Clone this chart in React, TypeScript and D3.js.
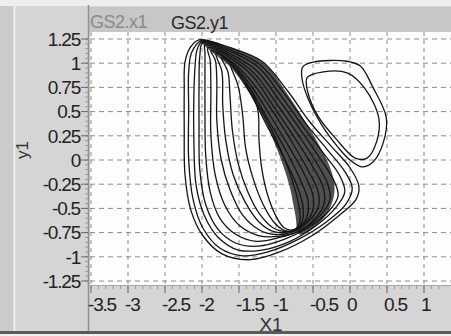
import React from 'react';
import * as d3 from 'd3';

const X_TICKS = [-3.5, -3, -2.5, -2, -1.5, -1, -0.5, 0, 0.5, 1];
const X_LABELS = ['-3.5', '-3', '-2.5', '-2', '-1.5', '-1', '-0.5', '0', '0.5', '1'];
const Y_TICKS = [1.25, 1, 0.75, 0.5, 0.25, 0, -0.25, -0.5, -0.75, -1, -1.25];
const Y_LABELS = ['1.25', '1', '0.75', '0.5', '0.25', '0', '-0.25', '-0.5', '-0.75', '-1', '-1.25'];
const SERIES_NAMES = ['GS2.x1', 'GS2.y1'];

// Orbit loops of the attractor (x1, y1)
const L1 = [[-2.04,1.24],[-1.62,1.16],[-1.19,1.02],[-0.84,0.71],[-0.54,0.39],[-0.24,0.13],[0,-0.08],[0.12,-0.27],[0.08,-0.41],[-0.16,-0.58],[-0.51,-0.78],[-0.95,-0.95],[-1.35,-1.03],[-1.73,-0.97],[-1.99,-0.78],[-2.15,-0.52],[-2.23,-0.15],[-2.24,0.31],[-2.24,0.72],[-2.23,1.01],[-2.16,1.16]];
const L2 = [[-2.01,1.23],[-1.62,1.14],[-1.22,0.99],[-0.88,0.68],[-0.58,0.36],[-0.30,0.10],[-0.07,-0.12],[0.03,-0.29],[-0.05,-0.45],[-0.32,-0.64],[-0.70,-0.82],[-1.11,-0.95],[-1.45,-0.99],[-1.76,-0.91],[-1.99,-0.70],[-2.12,-0.41],[-2.18,0],[-2.18,0.52],[-2.18,0.91],[-2.14,1.11]];
const L3 = [[-2.0,1.22],[-1.64,1.13],[-1.24,0.96],[-0.92,0.65],[-0.62,0.33],[-0.35,0.06],[-0.14,-0.16],[-0.07,-0.33],[-0.19,-0.49],[-0.46,-0.68],[-0.81,-0.84],[-1.19,-0.93],[-1.51,-0.93],[-1.78,-0.80],[-1.97,-0.57],[-2.08,-0.26],[-2.11,0.21],[-2.11,0.67],[-2.09,1.01],[-2.07,1.13]];
const L4 = [[-1.99,1.21],[-1.65,1.11],[-1.27,0.93],[-0.96,0.62],[-0.66,0.30],[-0.41,0.02],[-0.22,-0.21],[-0.16,-0.37],[-0.30,-0.54],[-0.57,-0.70],[-0.89,-0.82],[-1.24,-0.89],[-1.54,-0.86],[-1.78,-0.72],[-1.95,-0.46],[-2.03,-0.10],[-2.04,0.36],[-2.04,0.77],[-2.03,1.07]];
const L5 = [[-1.96,1.19],[-1.65,1.09],[-1.30,0.90],[-0.99,0.58],[-0.70,0.26],[-0.46,-0.02],[-0.30,-0.25],[-0.27,-0.41],[-0.41,-0.58],[-0.65,-0.72],[-0.95,-0.80],[-1.27,-0.84],[-1.54,-0.77],[-1.76,-0.60],[-1.89,-0.33],[-1.95,0.05],[-1.96,0.52],[-1.96,0.93],[-1.96,1.11]];
const L6 = [[-1.92,1.16],[-1.65,1.07],[-1.32,0.87],[-1.03,0.55],[-0.74,0.22],[-0.51,-0.06],[-0.36,-0.29],[-0.35,-0.45],[-0.49,-0.62],[-0.70,-0.74],[-0.97,-0.79],[-1.24,-0.78],[-1.49,-0.68],[-1.69,-0.47],[-1.82,-0.16],[-1.88,0.26],[-1.88,0.72],[-1.89,1.03]];
const L7 = [[-1.88,1.13],[-1.64,1.04],[-1.34,0.82],[-1.05,0.51],[-0.78,0.18],[-0.57,-0.10],[-0.43,-0.33],[-0.43,-0.49],[-0.57,-0.64],[-0.76,-0.74],[-1.0,-0.77],[-1.23,-0.72],[-1.45,-0.57],[-1.62,-0.31],[-1.74,0],[-1.80,0.41],[-1.80,0.82],[-1.82,1.03]];
const L8 = [[-1.81,1.10],[-1.61,1.01],[-1.35,0.78],[-1.08,0.46],[-0.82,0.13],[-0.62,-0.14],[-0.50,-0.37],[-0.51,-0.54],[-0.64,-0.67],[-0.81,-0.74],[-1.03,-0.74],[-1.23,-0.64],[-1.42,-0.43],[-1.58,-0.15],[-1.68,0.21],[-1.72,0.57],[-1.73,0.91]];
const L9 = [[-1.74,1.06],[-1.57,0.96],[-1.35,0.74],[-1.11,0.42],[-0.86,0.09],[-0.68,-0.19],[-0.57,-0.41],[-0.58,-0.58],[-0.69,-0.70],[-0.85,-0.74],[-1.04,-0.70],[-1.22,-0.56],[-1.38,-0.33],[-1.51,-0.04],[-1.59,0.31],[-1.62,0.64],[-1.65,0.91]];
const L10 = [[-1.62,0.99],[-1.49,0.87],[-1.34,0.68],[-1.14,0.38],[-0.91,0.05],[-0.73,-0.24],[-0.64,-0.46],[-0.64,-0.62],[-0.73,-0.72],[-0.88,-0.73],[-1.03,-0.64],[-1.18,-0.45],[-1.31,-0.19],[-1.41,0.12],[-1.45,0.46],[-1.51,0.76]];
const L11 = [[-1.43,0.80],[-1.15,0.44],[-0.95,0.13],[-0.78,-0.21],[-0.68,-0.52],[-0.68,-0.64],[-0.76,-0.72],[-0.89,-0.70],[-1.0,-0.58],[-1.11,-0.37],[-1.19,-0.10],[-1.23,0.21],[-1.24,0.49],[-1.31,0.68]];
const E1 = [[-0.64,0.96],[-0.50,1.01],[-0.04,1.02],[0.14,0.97],[0.31,0.75],[0.49,0.44],[0.45,0.18],[0.31,-0.02],[0.16,-0.07],[0,0],[-0.16,0.13],[-0.38,0.36],[-0.57,0.64],[-0.65,0.85]];
const E2 = [[-0.58,0.85],[-0.36,0.91],[-0.04,0.90],[0.20,0.74],[0.39,0.43],[0.36,0.19],[0.23,0.02],[0.07,0.02],[-0.18,0.21],[-0.43,0.45],[-0.57,0.70]];
// Region where the trajectory is so dense it reads as a solid band
const BAND = [[-2.03,1.24],[-1.59,1.16],[-1.15,0.99],[-0.81,0.64],[-0.56,0.34],[-0.38,0.10],[-0.25,-0.12],[-0.21,-0.33],[-0.30,-0.54],[-0.49,-0.70],[-0.68,-0.77],[-0.74,-0.56],[-0.82,-0.26],[-0.98,0.10],[-1.18,0.45],[-1.40,0.74],[-1.63,0.97],[-1.86,1.11]];

const ORBITS = [L1, L2, L3, L4, L5, L6, L7, L8, L9, L10, L11, E1, E2];

const W = 451, H = 336;
const PLOT = { left: 90, top: 32, right: 451, bottom: 285 };
const FONT = '"Liberation Sans", Arial, sans-serif';

export default function App() {
  const x = d3.scaleLinear().domain([-3.5, 1]).range([91, 424]);
  const y = d3.scaleLinear().domain([-1.25, 1.25]).range([281, 39]);
  const line = d3.line<number[]>().x(d => x(d[0])).y(d => y(d[1])).curve(d3.curveCatmullRomClosed.alpha(0.5));
  const minorY = d3.range(-1.25, 1.2501, 0.05);
  const minorX = d3.range(-3.5, 1.3, 0.1);

  return (
    <svg width={W} height={H} style={{ position: 'fixed', left: 0, top: 0 }} fontFamily={FONT}>
      <defs>
        <clipPath id="plotclip">
          <rect x={PLOT.left} y={PLOT.top} width={PLOT.right - PLOT.left} height={PLOT.bottom - PLOT.top} />
        </clipPath>
      </defs>
      <rect x={0} y={0} width={W} height={H} fill="#d5d5d5" />
      <rect x={0} y={0} width={W} height={6} fill="#eeeeee" />
      <rect x={0} y={6} width={13} height={326} fill="#cbcbcb" />
      <line x1={14.5} y1={6} x2={14.5} y2={332} stroke="#ececec" strokeWidth={2} />
      <rect x={88} y={7} width={W - 88} height={25} fill="#c7c7c7" />
      <rect x={0} y={331} width={W} height={3} fill="#5a5a5a" />
      <rect x={0} y={334} width={W} height={2} fill="#efefef" />

      <rect x={PLOT.left} y={PLOT.top} width={PLOT.right - PLOT.left} height={PLOT.bottom - PLOT.top} fill="#fdfdfd" />

      <g clipPath="url(#plotclip)">
        {X_TICKS.map((t, i) => (
          <line key={'gx' + i} x1={x(t)} x2={x(t)} y1={PLOT.top} y2={PLOT.bottom} stroke="#8c8c8c" strokeWidth={1} strokeDasharray="4,4" />
        ))}
        {Y_TICKS.map((t, i) => (
          <line key={'gy' + i} x1={PLOT.left} x2={PLOT.right} y1={y(t)} y2={y(t)} stroke="#8c8c8c" strokeWidth={1} strokeDasharray="5,4" />
        ))}
        <path d={line(BAND) || ''} fill="#111" fillOpacity={0.74} stroke="none" />
        {ORBITS.map((d, i) => (
          <path key={'o' + i} d={line(d) || ''} fill="none" stroke="#151515" strokeWidth={1.3} />
        ))}
      </g>

      {/* axes */}
      <line x1={88.5} y1={5} x2={88.5} y2={331} stroke="#8f8f8f" strokeWidth={1.5} />
      <line x1={88} y1={285.5} x2={W} y2={285.5} stroke="#a8a8a8" strokeWidth={1} />
      {minorY.map((t, i) => (
        <line key={'my' + i} x1={85} x2={88} y1={y(t)} y2={y(t)} stroke="#9a9a9a" strokeWidth={1} />
      ))}
      {minorX.map((t, i) => (
        <line key={'mx' + i} x1={x(t)} x2={x(t)} y1={286} y2={289} stroke="#9a9a9a" strokeWidth={1} />
      ))}
      {Y_TICKS.map((t, i) => (
        <line key={'ty' + i} x1={81} x2={88} y1={y(t)} y2={y(t)} stroke="#6a6a6a" strokeWidth={1} />
      ))}
      {X_TICKS.map((t, i) => (
        <line key={'tx' + i} x1={x(t)} x2={x(t)} y1={286} y2={293} stroke="#6a6a6a" strokeWidth={1} />
      ))}

      {Y_TICKS.map((t, i) => (
        <text key={'ly' + i} x={80} y={y(t)} dy="0.36em" textAnchor="end" fontSize={19} letterSpacing={-1.2} fill="#222">{Y_LABELS[i]}</text>
      ))}
      {X_TICKS.map((t, i) => (
        <text key={'lx' + i} x={x(t) - 3} y={311} textAnchor="start" fontSize={19} letterSpacing={-1.2} fill="#222">{X_LABELS[i]}</text>
      ))}

      <text x={271} y={331} textAnchor="middle" fontSize={19} fill="#333">X1</text>
      <text transform="translate(28,150) rotate(-90)" textAnchor="middle" fontSize={17} fill="#333">y1</text>

      <text x={90} y={28} fontSize={18} fill="#8a8a8a" letterSpacing={-0.5}>{SERIES_NAMES[0]}</text>
      <text x={171} y={29} fontSize={18} fill="#2a2a2a" letterSpacing={-0.5}>{SERIES_NAMES[1]}</text>
    </svg>
  );
}
